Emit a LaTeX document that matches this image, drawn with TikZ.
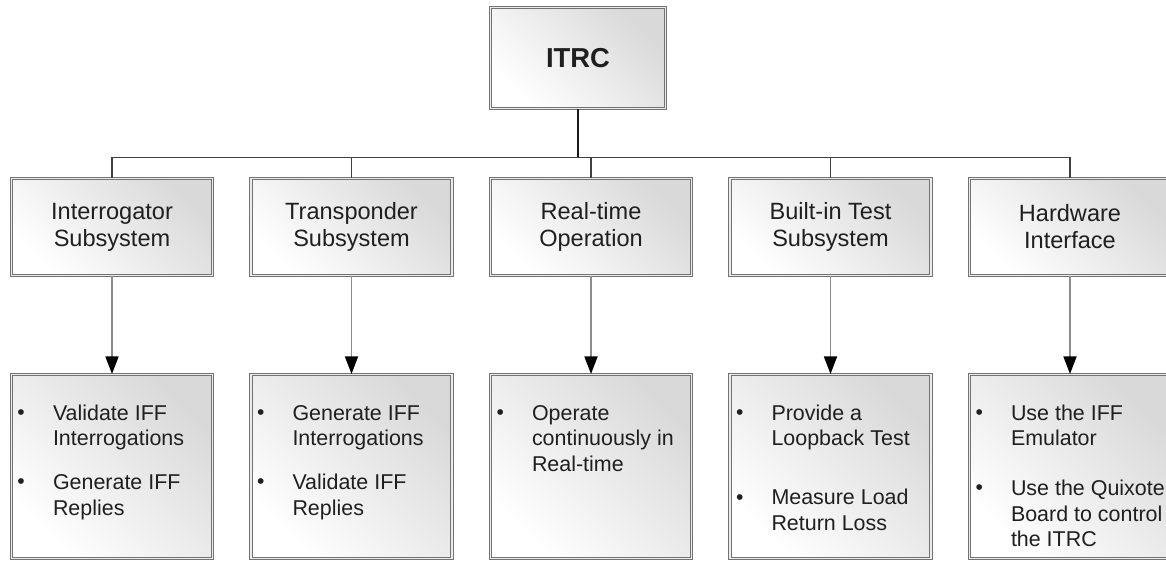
\documentclass[tikz,border=0pt]{standalone}
\usepackage{fontspec}
\setmainfont{Liberation Sans}
\usetikzlibrary{arrows.meta,positioning}

\newcommand{\toptext}{\fontsize{13.4pt}{15.4pt}\selectfont}
\newcommand{\tasktext}{\fontsize{12.2pt}{14.5pt}\selectfont}
\newcommand{\bul}{\makebox[0.66cm][l]{\hspace*{-0.05cm}\raisebox{0.4pt}{\fontsize{12pt}{12pt}\selectfont\textbullet}}}
\newcommand{\itm}[1]{\par\noindent\hspace*{0.17cm}\bul\begin{tabular}[t]{@{}l@{}}#1\end{tabular}\par}
\newcommand{\tasklist}[1]{\parbox[c][3.68cm][t]{4.02cm}{\tasktext\vspace*{16pt}#1}}

\begin{document}
\begin{tikzpicture}[node distance=4.79cm,
            box/.style={draw=black!55, double=black!8, double distance=0.7pt,
                        line width=0.55pt, top color=black!15, middle color=black!4,
                        bottom color=white, shading angle=-45, inner sep=0pt,
                        text=black!88},
            root/.style={box, minimum width=3.5cm, minimum height=2.02cm,
                         font=\fontsize{15.6pt}{18pt}\selectfont\bfseries},
            sub/.style={box, minimum width=4.02cm, minimum height=1.94cm,
                        align=center, font=\toptext},
            task/.style={box, minimum width=4.02cm, minimum height=3.68cm},
            stem/.style={line width=1.3pt, black!90},
            link/.style={line width=0.8pt, black!75},
            flow/.style={line width=1pt, black!45,
                         -{Triangle[length=10pt, width=7.4pt, color=black, fill=black]}}]

        \useasboundingbox (0,0) rectangle (23.32,-11.26);
        \clip (0,0) rectangle (23.32,-11.26);

        \node[root] (itrc) at (11.56,-1.16) {ITRC};

        % subsystems
        \node[sub] (irs) at (2.24,-4.54) {Interrogator\\Subsystem};
        \node[sub] (tps) [right of=irs]   {Transponder\\Subsystem};
        \node[sub] (rto) [right of=tps]   {Real-time\\Operation};
        \node[sub] (bit) [right of=rto]   {Built-in Test\\Subsystem};
        \node[sub] (hwi) [right of=bit]   {Hardware\\Interface};

        % what each one does
        \node[task] (irt) [below of=irs] {\tasklist{%
            \itm{Validate IFF\\Interrogations}\vspace{9.4pt}
            \itm{Generate IFF\\Replies}}};
        \node[task] (tpt) [below of=tps] {\tasklist{%
            \itm{Generate IFF\\Interrogations}\vspace{9.4pt}
            \itm{Validate IFF\\Replies}}};
        \node[task] (rtt) [below of=rto] {\tasklist{%
            \itm{Operate\\continuously in\\Real-time}}};
        \node[task] (btt) [below of=bit] {\tasklist{%
            \itm{Provide a\\Loopback Test}\vspace{18pt}
            \itm{Measure Load\\Return Loss}}};
        \node[task] (hwt) [below of=hwi] {\tasklist{%
            \itm{Use the IFF\\Emulator}\vspace{12.8pt}
            \itm{Use the Quixote\\Board to control\\the ITRC}}};

        \draw[stem] (itrc.south) -- ++(0,-0.97) coordinate (bus);
        \draw[link] (bus) -| (irs.north)
                    (bus) -| (tps.north)
                    (bus) -| (rto.north)
                    (bus) -| (bit.north)
                    (bus) -| (hwi.north);

        \path[flow] (irs) edge (irt)
                    (tps) edge (tpt)
                    (rto) edge (rtt)
                    (bit) edge (btt)
                    (hwi) edge (hwt);

    \end{tikzpicture}
\end{document}
